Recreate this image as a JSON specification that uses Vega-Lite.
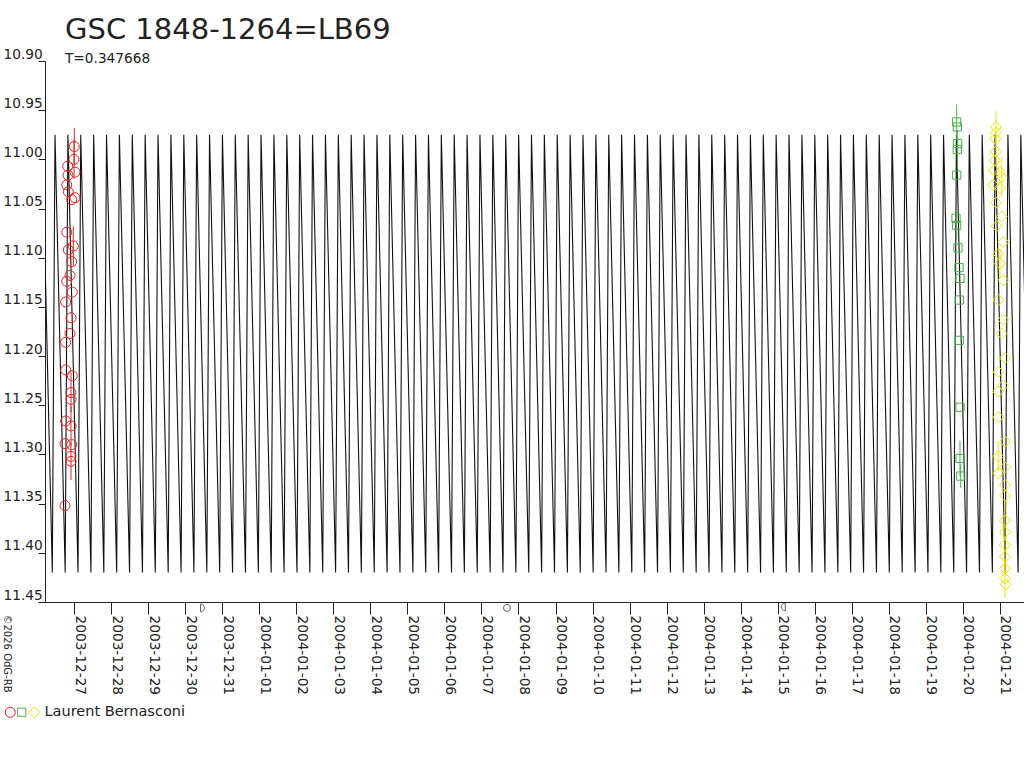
{
"$schema": "https://vega.github.io/schema/vega-lite/v6.json",
"width": 979, "height": 541,
"autosize": {"type": "none"},
"padding": {"left": 45, "top": 61, "right": 0, "bottom": 166},
"background": "white",
"config": {"font": "DejaVu Sans", "view": {"stroke": null}, "axis": {"grid": false, "domainColor": "#222", "tickColor": "#222", "labelColor": "#222", "labelFont": "DejaVu Sans", "labelFontSize": 13.7}},
"title": {"text": "GSC 1848-1264=LB69", "subtitle": "T=0.347668", "anchor": "start", "frame": "group", "dx": 20, "offset": -19, "fontSize": 29, "fontWeight": "normal", "color": "#222", "font": "DejaVu Sans", "subtitleFont": "DejaVu Sans", "subtitleFontSize": 13.7, "subtitleColor": "#222", "subtitlePadding": 7},
"datasets": {
"model": [
{"d":-0.861,"mag":10.975},
{"d":-0.586,"mag":11.42},{"d":-0.513,"mag":10.975},
{"d":-0.238,"mag":11.42},{"d":-0.165,"mag":10.975},
{"d":0.109,"mag":11.42},{"d":0.182,"mag":10.975},
{"d":0.457,"mag":11.42},{"d":0.530,"mag":10.975},
{"d":0.805,"mag":11.42},{"d":0.878,"mag":10.975},
{"d":1.152,"mag":11.42},{"d":1.225,"mag":10.975},
{"d":1.500,"mag":11.42},{"d":1.573,"mag":10.975},
{"d":1.848,"mag":11.42},{"d":1.921,"mag":10.975},
{"d":2.195,"mag":11.42},{"d":2.268,"mag":10.975},
{"d":2.543,"mag":11.42},{"d":2.616,"mag":10.975},
{"d":2.891,"mag":11.42},{"d":2.964,"mag":10.975},
{"d":3.238,"mag":11.42},{"d":3.311,"mag":10.975},
{"d":3.586,"mag":11.42},{"d":3.659,"mag":10.975},
{"d":3.934,"mag":11.42},{"d":4.007,"mag":10.975},
{"d":4.281,"mag":11.42},{"d":4.354,"mag":10.975},
{"d":4.629,"mag":11.42},{"d":4.702,"mag":10.975},
{"d":4.977,"mag":11.42},{"d":5.050,"mag":10.975},
{"d":5.324,"mag":11.42},{"d":5.397,"mag":10.975},
{"d":5.672,"mag":11.42},{"d":5.745,"mag":10.975},
{"d":6.020,"mag":11.42},{"d":6.093,"mag":10.975},
{"d":6.367,"mag":11.42},{"d":6.440,"mag":10.975},
{"d":6.715,"mag":11.42},{"d":6.788,"mag":10.975},
{"d":7.063,"mag":11.42},{"d":7.136,"mag":10.975},
{"d":7.410,"mag":11.42},{"d":7.483,"mag":10.975},
{"d":7.758,"mag":11.42},{"d":7.831,"mag":10.975},
{"d":8.106,"mag":11.42},{"d":8.179,"mag":10.975},
{"d":8.453,"mag":11.42},{"d":8.526,"mag":10.975},
{"d":8.801,"mag":11.42},{"d":8.874,"mag":10.975},
{"d":9.149,"mag":11.42},{"d":9.222,"mag":10.975},
{"d":9.496,"mag":11.42},{"d":9.569,"mag":10.975},
{"d":9.844,"mag":11.42},{"d":9.917,"mag":10.975},
{"d":10.192,"mag":11.42},{"d":10.265,"mag":10.975},
{"d":10.539,"mag":11.42},{"d":10.612,"mag":10.975},
{"d":10.887,"mag":11.42},{"d":10.960,"mag":10.975},
{"d":11.235,"mag":11.42},{"d":11.308,"mag":10.975},
{"d":11.582,"mag":11.42},{"d":11.655,"mag":10.975},
{"d":11.930,"mag":11.42},{"d":12.003,"mag":10.975},
{"d":12.278,"mag":11.42},{"d":12.351,"mag":10.975},
{"d":12.625,"mag":11.42},{"d":12.698,"mag":10.975},
{"d":12.973,"mag":11.42},{"d":13.046,"mag":10.975},
{"d":13.321,"mag":11.42},{"d":13.394,"mag":10.975},
{"d":13.668,"mag":11.42},{"d":13.741,"mag":10.975},
{"d":14.016,"mag":11.42},{"d":14.089,"mag":10.975},
{"d":14.364,"mag":11.42},{"d":14.437,"mag":10.975},
{"d":14.711,"mag":11.42},{"d":14.784,"mag":10.975},
{"d":15.059,"mag":11.42},{"d":15.132,"mag":10.975},
{"d":15.407,"mag":11.42},{"d":15.480,"mag":10.975},
{"d":15.754,"mag":11.42},{"d":15.827,"mag":10.975},
{"d":16.102,"mag":11.42},{"d":16.175,"mag":10.975},
{"d":16.450,"mag":11.42},{"d":16.523,"mag":10.975},
{"d":16.797,"mag":11.42},{"d":16.870,"mag":10.975},
{"d":17.145,"mag":11.42},{"d":17.218,"mag":10.975},
{"d":17.493,"mag":11.42},{"d":17.566,"mag":10.975},
{"d":17.840,"mag":11.42},{"d":17.913,"mag":10.975},
{"d":18.188,"mag":11.42},{"d":18.261,"mag":10.975},
{"d":18.536,"mag":11.42},{"d":18.609,"mag":10.975},
{"d":18.883,"mag":11.42},{"d":18.956,"mag":10.975},
{"d":19.231,"mag":11.42},{"d":19.304,"mag":10.975},
{"d":19.579,"mag":11.42},{"d":19.652,"mag":10.975},
{"d":19.926,"mag":11.42},{"d":19.999,"mag":10.975},
{"d":20.274,"mag":11.42},{"d":20.347,"mag":10.975},
{"d":20.622,"mag":11.42},{"d":20.695,"mag":10.975},
{"d":20.969,"mag":11.42},{"d":21.042,"mag":10.975},
{"d":21.317,"mag":11.42},{"d":21.390,"mag":10.975},
{"d":21.665,"mag":11.42},{"d":21.738,"mag":10.975},
{"d":22.012,"mag":11.42},{"d":22.085,"mag":10.975},
{"d":22.360,"mag":11.42},{"d":22.433,"mag":10.975},
{"d":22.708,"mag":11.42},{"d":22.781,"mag":10.975},
{"d":23.055,"mag":11.42},{"d":23.128,"mag":10.975},
{"d":23.403,"mag":11.42},{"d":23.476,"mag":10.975},
{"d":23.751,"mag":11.42},{"d":23.824,"mag":10.975},
{"d":24.098,"mag":11.42},{"d":24.171,"mag":10.975},
{"d":24.446,"mag":11.42},{"d":24.519,"mag":10.975},
{"d":24.794,"mag":11.42},{"d":24.867,"mag":10.975},
{"d":25.141,"mag":11.42},{"d":25.214,"mag":10.975},
{"d":25.489,"mag":11.42},{"d":25.562,"mag":10.975},
{"d":25.837,"mag":11.42}
],
"obs": [
{"series":"session 1","d":0.008,"mag":10.987,"err":0.019},
{"series":"session 1","d":0.000,"mag":11.000,"err":0.02},
{"series":"session 1","d":-0.170,"mag":11.007,"err":0},
{"series":"session 1","d":0.027,"mag":11.013,"err":0},
{"series":"session 1","d":-0.162,"mag":11.016,"err":0},
{"series":"session 1","d":-0.197,"mag":11.026,"err":0},
{"series":"session 1","d":-0.154,"mag":11.033,"err":0},
{"series":"session 1","d":-0.062,"mag":11.041,"err":0},
{"series":"session 1","d":0.027,"mag":11.039,"err":0},
{"series":"session 1","d":-0.197,"mag":11.074,"err":0},
{"series":"session 1","d":-0.019,"mag":11.088,"err":0.02},
{"series":"session 1","d":-0.154,"mag":11.092,"err":0},
{"series":"session 1","d":-0.062,"mag":11.104,"err":0},
{"series":"session 1","d":-0.108,"mag":11.118,"err":0},
{"series":"session 1","d":-0.197,"mag":11.124,"err":0},
{"series":"session 1","d":-0.046,"mag":11.135,"err":0},
{"series":"session 1","d":-0.224,"mag":11.145,"err":0},
{"series":"session 1","d":-0.081,"mag":11.161,"err":0},
{"series":"session 1","d":-0.108,"mag":11.177,"err":0},
{"series":"session 1","d":-0.224,"mag":11.186,"err":0},
{"series":"session 1","d":-0.224,"mag":11.214,"err":0},
{"series":"session 1","d":-0.046,"mag":11.220,"err":0},
{"series":"session 1","d":-0.081,"mag":11.237,"err":0.02},
{"series":"session 1","d":-0.081,"mag":11.244,"err":0},
{"series":"session 1","d":-0.224,"mag":11.266,"err":0},
{"series":"session 1","d":-0.081,"mag":11.271,"err":0.02},
{"series":"session 1","d":-0.243,"mag":11.289,"err":0},
{"series":"session 1","d":-0.062,"mag":11.290,"err":0},
{"series":"session 1","d":-0.081,"mag":11.302,"err":0},
{"series":"session 1","d":-0.081,"mag":11.307,"err":0.019},
{"series":"session 1","d":-0.243,"mag":11.352,"err":0},
{"series":"session 2","d":23.831,"mag":10.962,"err":0.018},
{"series":"session 2","d":23.847,"mag":10.967,"err":0},
{"series":"session 2","d":23.858,"mag":10.984,"err":0},
{"series":"session 2","d":23.847,"mag":10.990,"err":0.02},
{"series":"session 2","d":23.831,"mag":11.016,"err":0},
{"series":"session 2","d":23.812,"mag":11.060,"err":0},
{"series":"session 2","d":23.831,"mag":11.067,"err":0.015},
{"series":"session 2","d":23.866,"mag":11.090,"err":0},
{"series":"session 2","d":23.893,"mag":11.110,"err":0},
{"series":"session 2","d":23.920,"mag":11.121,"err":0},
{"series":"session 2","d":23.901,"mag":11.143,"err":0},
{"series":"session 2","d":23.901,"mag":11.184,"err":0},
{"series":"session 2","d":23.920,"mag":11.252,"err":0},
{"series":"session 2","d":23.920,"mag":11.304,"err":0.018},
{"series":"session 2","d":23.939,"mag":11.322,"err":0.012},
{"series":"session 3","d":24.892,"mag":10.967,"err":0.016},
{"series":"session 3","d":24.892,"mag":10.973,"err":0},
{"series":"session 3","d":24.873,"mag":10.979,"err":0},
{"series":"session 3","d":24.892,"mag":10.992,"err":0.015},
{"series":"session 3","d":24.865,"mag":11.001,"err":0},
{"series":"session 3","d":24.838,"mag":11.011,"err":0},
{"series":"session 3","d":25.000,"mag":11.013,"err":0},
{"series":"session 3","d":25.046,"mag":11.018,"err":0.02},
{"series":"session 3","d":24.819,"mag":11.026,"err":0},
{"series":"session 3","d":25.000,"mag":11.029,"err":0},
{"series":"session 3","d":24.892,"mag":11.044,"err":0},
{"series":"session 3","d":25.046,"mag":11.058,"err":0},
{"series":"session 3","d":24.911,"mag":11.068,"err":0},
{"series":"session 3","d":25.089,"mag":11.084,"err":0},
{"series":"session 3","d":24.954,"mag":11.096,"err":0},
{"series":"session 3","d":25.000,"mag":11.106,"err":0.015},
{"series":"session 3","d":25.089,"mag":11.123,"err":0},
{"series":"session 3","d":24.954,"mag":11.143,"err":0},
{"series":"session 3","d":25.089,"mag":11.163,"err":0},
{"series":"session 3","d":25.046,"mag":11.177,"err":0},
{"series":"session 3","d":25.135,"mag":11.202,"err":0},
{"series":"session 3","d":24.954,"mag":11.216,"err":0},
{"series":"session 3","d":25.089,"mag":11.230,"err":0},
{"series":"session 3","d":24.954,"mag":11.236,"err":0},
{"series":"session 3","d":24.954,"mag":11.262,"err":0},
{"series":"session 3","d":25.135,"mag":11.287,"err":0},
{"series":"session 3","d":24.954,"mag":11.302,"err":0.015},
{"series":"session 3","d":25.135,"mag":11.313,"err":0},
{"series":"session 3","d":24.954,"mag":11.319,"err":0},
{"series":"session 3","d":25.135,"mag":11.331,"err":0},
{"series":"session 3","d":25.135,"mag":11.342,"err":0},
{"series":"session 3","d":25.135,"mag":11.367,"err":0.02},
{"series":"session 3","d":25.135,"mag":11.379,"err":0},
{"series":"session 3","d":25.135,"mag":11.392,"err":0},
{"series":"session 3","d":25.135,"mag":11.404,"err":0.02},
{"series":"session 3","d":25.135,"mag":11.416,"err":0},
{"series":"session 3","d":25.135,"mag":11.426,"err":0.02},
{"series":"session 3","d":25.162,"mag":11.432,"err":0}
],
"moon": [
{"phase":"first quarter","d":3.48,"mag":11.456},
{"phase":"full moon","d":11.69,"mag":11.456},
{"phase":"last quarter","d":19.14,"mag":11.455}
]
},
"encoding": {
"x": {"field": "d", "type": "quantitative", "title": null, "scale": {"domain": [-0.783, 25.648], "nice": false, "zero": false},
"axis": {"values": [0,1,2,3,4,5,6,7,8,9,10,11,12,13,14,15,16,17,18,19,20,21,22,23,24,25], "tickCount": 26, "labelExpr": "timeFormat(datetime(2003, 11, 27 + datum.value), '%Y-%m-%d')", "labelAngle": 90, "labelAlign": "left", "labelBaseline": "alphabetic", "labelOffset": 1, "tickSize": 12, "labelPadding": 1, "title": null, "labelFlush": false, "labelOverlap": false, "labelBound": false}},
"y": {"field": "mag", "type": "quantitative", "title": "©2026 OdG-RB", "scale": {"domain": [10.9, 11.45], "reverse": true, "nice": false, "zero": false},
"axis": {"values": [10.9,10.95,11.0,11.05,11.1,11.15,11.2,11.25,11.3,11.35,11.4,11.45], "format": ".2f", "tickSize": 7, "labelAlign": "left", "labelPadding": 35, "labelBaseline": "alphabetic", "labelOffset": -3, "labelFlush": false, "labelOverlap": false, "labelBound": false, "title": "©2026 OdG-RB", "titleAngle": 90, "titleX": -39, "titleY": 592, "titleFontSize": 10, "titleFontWeight": "normal", "titleAlign": "center", "titleBaseline": "middle", "titleColor": "#222"}}
},
"layer": [
{
"data": {"name": "model"},
"mark": {"type": "line", "color": "#111", "strokeWidth": 1.1, "clip": true},
"encoding": {}
},
{
"data": {"name": "obs"},
"transform": [{"filter": "datum.err > 0"}],
"mark": {"type": "errorbar", "thickness": 1},
"encoding": {
"yError": {"field": "err"},
"color": {"field": "series", "type": "nominal"}
}
},
{
"data": {"name": "obs"},
"mark": {"type": "point", "filled": false, "strokeWidth": 1, "opacity": 1, "size": 100},
"encoding": {
"color": {"field": "series", "type": "nominal", "scale": {"domain": ["session 1", "session 2", "session 3"], "range": ["#ee2222", "#44b044", "#f2e600"]},
"legend": {"orient": "none", "legendX": -42, "legendY": 644, "direction": "horizontal", "gridAlign": "none", "title": null, "labelExpr": "datum.label == 'session 3' ? 'Laurent Bernasconi' : ''", "labelFontSize": 14.5, "labelColor": "#222", "labelFont": "DejaVu Sans", "labelOffset": 3, "columnPadding": -6.5, "symbolStrokeWidth": 1, "symbolSize": 100}},
"shape": {"field": "series", "type": "nominal", "scale": {"domain": ["session 1", "session 2", "session 3"], "range": ["circle", "M-0.82,-0.82H0.82V0.82H-0.82Z", "M0,-1.1L1.1,0L0,1.1L-1.1,0Z"]}}
}
},
{
"data": {"name": "moon"},
"transform": [{"filter": "datum.phase == 'first quarter'"}],
"mark": {"type": "point", "filled": false, "color": "#222", "strokeWidth": 1, "size": 60, "shape": "M-0.6,-1 A1,1 0 0 1 -0.6,1 Z"},
"encoding": {}
},
{
"data": {"name": "moon"},
"transform": [{"filter": "datum.phase == 'full moon'"}],
"mark": {"type": "point", "filled": false, "color": "#222", "strokeWidth": 1, "size": 49, "shape": "circle"},
"encoding": {}
},
{
"data": {"name": "moon"},
"transform": [{"filter": "datum.phase == 'last quarter'"}],
"mark": {"type": "point", "filled": false, "color": "#222", "strokeWidth": 1, "size": 60, "shape": "M0.6,-1 A1,1 0 0 0 0.6,1 Z"},
"encoding": {}
}
]
}
